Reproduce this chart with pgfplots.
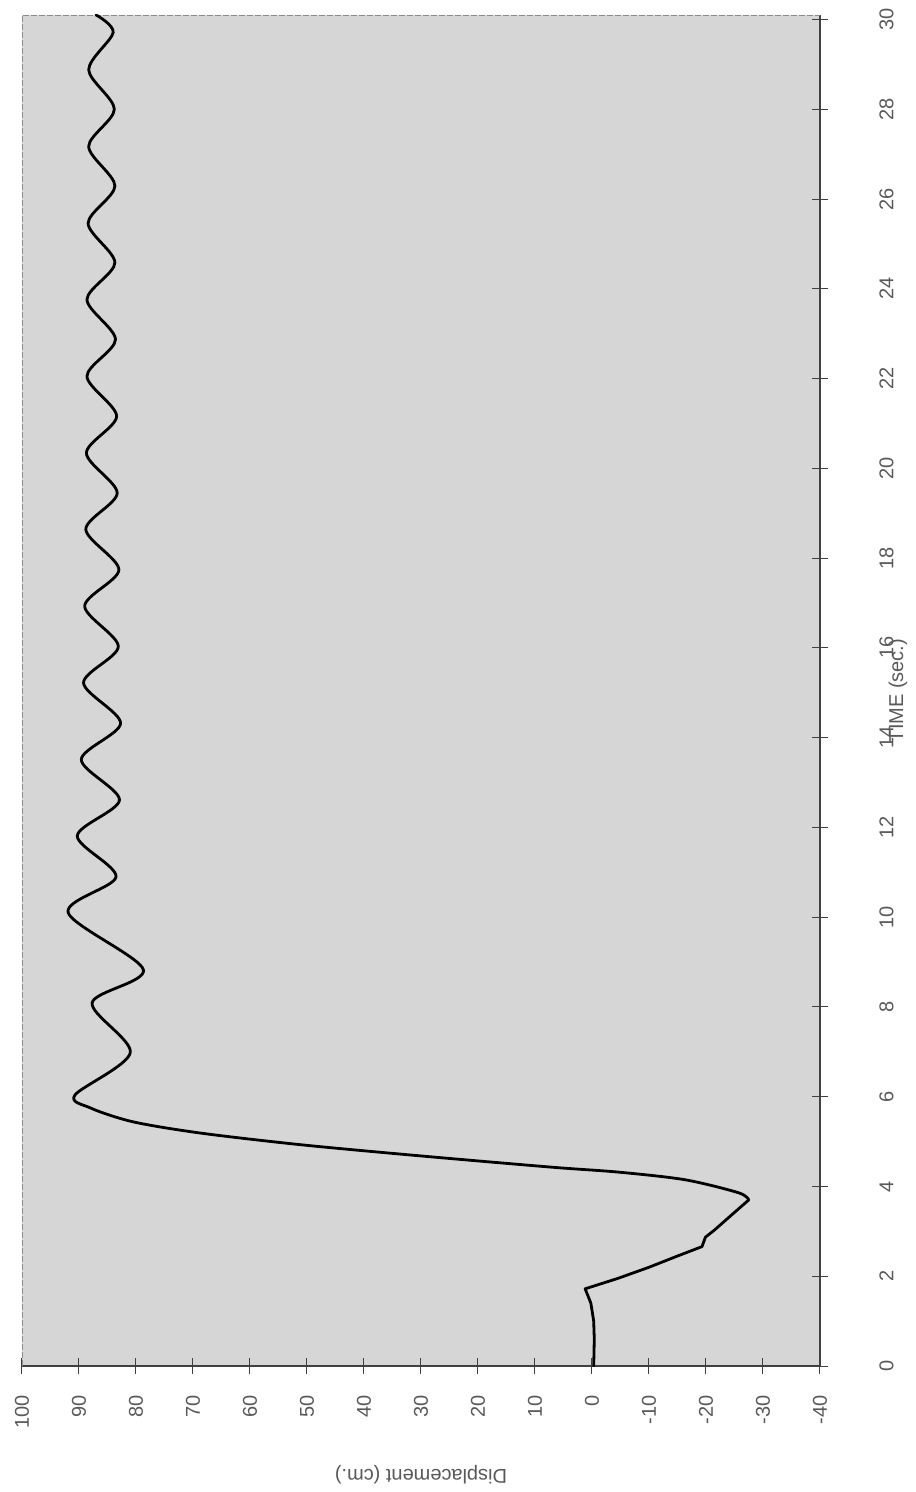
\documentclass[border=0pt]{standalone}
\usepackage{fontspec}
\setmainfont{Liberation Sans}
\usepackage{pgfplots}
\usepackage{pgfplotstable}
\pgfplotsset{compat=1.18}
\pgfplotstableread{
d t
-0.3 0.00
-0.4 0.60
-0.3 1.00
0.2 1.40
1.2 1.72
-4.5 1.95
-10.0 2.20
-15.0 2.45
-19.3 2.66
-19.9 2.87
-21.5 3.03
-24.8 3.40
-27.5 3.70
}\early
\pgfplotstableread{
d t
-27.5 3.70
-25.7 3.86
-16.3 4.15
-4.6 4.32
7.1 4.43
30.0 4.68
51.1 4.93
68.7 5.19
80.5 5.44
88.0 5.75
90.7 6.04
81.0 6.98
87.7 8.09
78.7 8.83
91.9 10.10
83.5 10.90
90.3 11.81
82.9 12.61
89.6 13.51
82.7 14.32
89.2 15.22
83.1 16.03
89.0 16.93
83.0 17.74
88.8 18.64
83.3 19.45
88.7 20.34
83.4 21.16
88.6 22.05
83.6 22.87
88.6 23.76
83.7 24.58
88.4 25.46
83.7 26.29
88.3 27.17
83.8 28.00
88.3 28.88
84.0 29.71
87.0 30.10
}\wave
\begin{document}
\begin{tikzpicture}
\path[use as bounding box] (-22pt,-126pt) rectangle (894pt,1366pt);
\begin{axis}[
  at={(0pt,0pt)}, anchor=south west,
  scale only axis, width=798pt, height=1351pt,
  xmin=-40, xmax=100, ymin=0, ymax=30.1,
  x dir=reverse,
  axis background/.style={fill=black!16},
  axis x line*=bottom, axis y line*=right,
  axis line style={-, black!75, line width=1.3pt},
  xtick={-40,-30,...,100},
  xticklabels={-40,-30,-20,-10,0,10,20,30,40,50,60,70,80,90,100},
  ytick={0,2,...,30},
  yticklabels={0,2,4,6,8,10,12,14,16,18,20,22,24,26,28,30},
  tick align=center, major tick length=16pt,
  tick style={black!75, line width=1pt},
  ticklabel style={font=\fontsize{20}{24}\selectfont, text=black!65},
  xticklabel style={rotate=90, anchor=east},
  yticklabel style={rotate=90, anchor=north},
  xticklabel shift=18pt, yticklabel shift=48pt,
  every axis x label/.style={at={(axis description cs:0.5,0)}, yshift=-109pt, anchor=center, rotate=180, font=\fontsize{20}{24}\selectfont, text=black!65},
  every axis y label/.style={at={(axis description cs:1,0.5)}, xshift=78pt, anchor=center, rotate=90, font=\fontsize{20}{24}\selectfont, text=black!65},
  xlabel={Displacement (cm.)}, ylabel={TIME (sec.)},
]
\draw[black!45, line width=0.8pt, dash pattern=on 6pt off 2pt] (axis cs:100,0) -- (axis cs:100,30.1) -- (axis cs:-40,30.1);
\addplot[black, line width=2.8pt, line join=round, line cap=round] table[x=d, y=t] {\early};
\addplot[black, line width=2.8pt, smooth, line join=round, line cap=round] table[x=d, y=t] {\wave};
\end{axis}
\end{tikzpicture}
\end{document}
